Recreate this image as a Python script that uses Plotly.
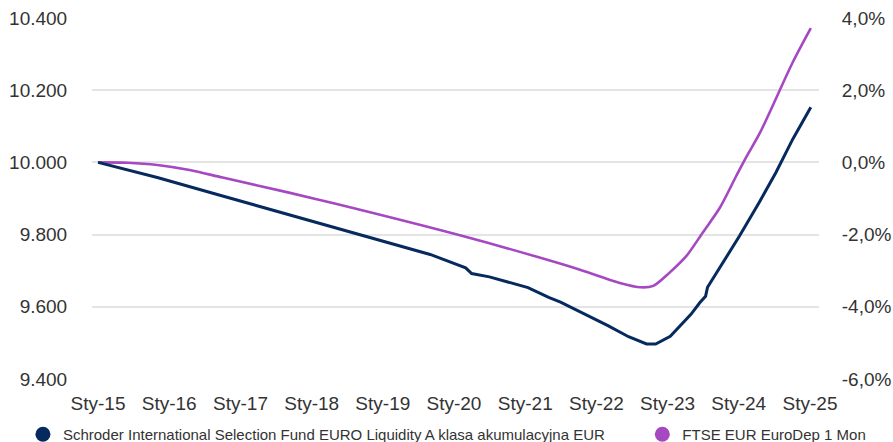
import plotly.graph_objects as go

# ---- data ----
fund_dates = ["2015-01-01", "2015-05-01", "2015-11-01", "2016-10-01", "2017-09-01",
              "2018-05-01", "2019-03-01", "2019-09-01", "2020-03-01", "2020-04-01",
              "2020-07-01", "2021-01-15", "2021-05-01", "2021-07-01", "2022-03-01",
              "2022-06-15", "2022-09-15", "2022-11-01", "2023-01-15", "2023-03-15",
              "2023-05-01", "2023-06-15", "2023-07-15", "2023-07-25", "2023-09-25",
              "2023-11-01", "2024-01-05", "2024-04-15", "2024-07-10", "2024-10-05",
              "2025-01-05"]
fund_values = [10.000, 9.983, 9.958, 9.907, 9.856,
               9.820, 9.773, 9.745, 9.708, 9.692,
               9.683, 9.653, 9.626, 9.613, 9.548,
               9.517, 9.497, 9.497, 9.518, 9.551,
               9.579, 9.611, 9.629, 9.654, 9.708,
               9.737, 9.796, 9.889, 9.972, 10.065,
               10.153]

index_dates = ["2015-01-01", "2015-06-01", "2015-11-01", "2016-04-15", "2016-10-01",
               "2017-09-01", "2018-05-15", "2020-02-15", "2021-06-15", "2021-10-01",
               "2022-05-01", "2022-08-15", "2022-10-20", "2023-01-10", "2023-04-08",
               "2023-07-01", "2023-09-27", "2023-12-20", "2024-02-10", "2024-04-20",
               "2024-10-05", "2025-01-05"]
index_values = [10.000, 9.999, 9.993, 9.979, 9.958,
                9.917, 9.884, 9.796, 9.722, 9.704,
                9.666, 9.654, 9.658, 9.694, 9.741,
                9.806, 9.875, 9.963, 10.016, 10.083,
                10.278, 10.372]

fund_name = "Schroder International Selection Fund EURO Liquidity A klasa akumulacyjna EUR"
index_name = "FTSE EUR EuroDep 1 Mon"

x_tick_vals = ["2015-01-01", "2016-01-01", "2017-01-01", "2018-01-01", "2019-01-01",
               "2020-01-01", "2021-01-01", "2022-01-01", "2023-01-01", "2024-01-01",
               "2025-01-01"]
x_tick_text = ["Sty-15", "Sty-16", "Sty-17", "Sty-18", "Sty-19", "Sty-20",
               "Sty-21", "Sty-22", "Sty-23", "Sty-24", "Sty-25"]
left_tick_vals = [9.4, 9.6, 9.8, 10.0, 10.2, 10.4]
right_tick_vals = [-6, -4, -2, 0, 2, 4]
right_tick_text = ["-6,0%", "-4,0%", "-2,0%", "0,0%", "2,0%", "4,0%"]

NAVY = "#062a5e"
PURPLE = "#a548c2"
TXT = "#333333"

fig = go.Figure()
fig.add_trace(go.Scatter(x=index_dates, y=index_values, mode="lines",
                         line=dict(color=PURPLE, width=2.6, shape="spline", smoothing=0.8),
                         showlegend=False, hoverinfo="skip"))
fig.add_trace(go.Scatter(x=fund_dates, y=fund_values, mode="lines",
                         line=dict(color=NAVY, width=3),
                         showlegend=False, hoverinfo="skip"))
# invisible trace to activate right axis
fig.add_trace(go.Scatter(x=[fund_dates[0]], y=[0], yaxis="y2", mode="markers",
                         marker=dict(opacity=0), showlegend=False, hoverinfo="skip"))
# legend entries with circle symbols
fig.add_trace(go.Scatter(x=[None], y=[None], mode="markers", name=fund_name,
                         marker=dict(color=NAVY, size=15), legend="legend"))
fig.add_trace(go.Scatter(x=[None], y=[None], mode="markers", name=index_name,
                         marker=dict(color=PURPLE, size=15), legend="legend2"))

legend_common = dict(orientation="h", xanchor="left", y=-0.108, yanchor="top",
                     font=dict(size=15, color=TXT), bgcolor="rgba(0,0,0,0)")

fig.update_layout(
    width=893, height=442,
    margin=dict(l=92, r=74, t=18, b=63, autoexpand=False),
    paper_bgcolor="white", plot_bgcolor="white",
    font=dict(family="Liberation Sans, Arial, sans-serif", color=TXT),
    xaxis=dict(range=["2014-12-01", "2025-02-16"], tickvals=x_tick_vals, ticktext=x_tick_text,
               showgrid=False, zeroline=False, showline=False,
               ticks="outside", ticklen=7, tickcolor="rgba(0,0,0,0)",
               tickfont=dict(size=19, color=TXT)),
    yaxis=dict(range=[9.4, 10.4], tickvals=left_tick_vals, tickformat=".3f",
               showgrid=True, gridcolor="#e4e4e4", gridwidth=2, zeroline=False,
               ticks="outside", ticklen=20, tickcolor="rgba(0,0,0,0)",
               tickfont=dict(size=19, color=TXT)),
    yaxis2=dict(range=[-6, 4], overlaying="y", side="right", tickvals=right_tick_vals,
                ticktext=right_tick_text, showgrid=False, zeroline=False,
                ticks="outside", ticklen=18, tickcolor="rgba(0,0,0,0)",
                tickfont=dict(size=19, color=TXT)),
    legend=dict(x=-0.095, **legend_common),
    legend2=dict(x=0.757, **legend_common),
    showlegend=True,
)

fig.write_html("out.html", config={"displayModeBar": False},
               post_script="document.body.style.margin='0';")
